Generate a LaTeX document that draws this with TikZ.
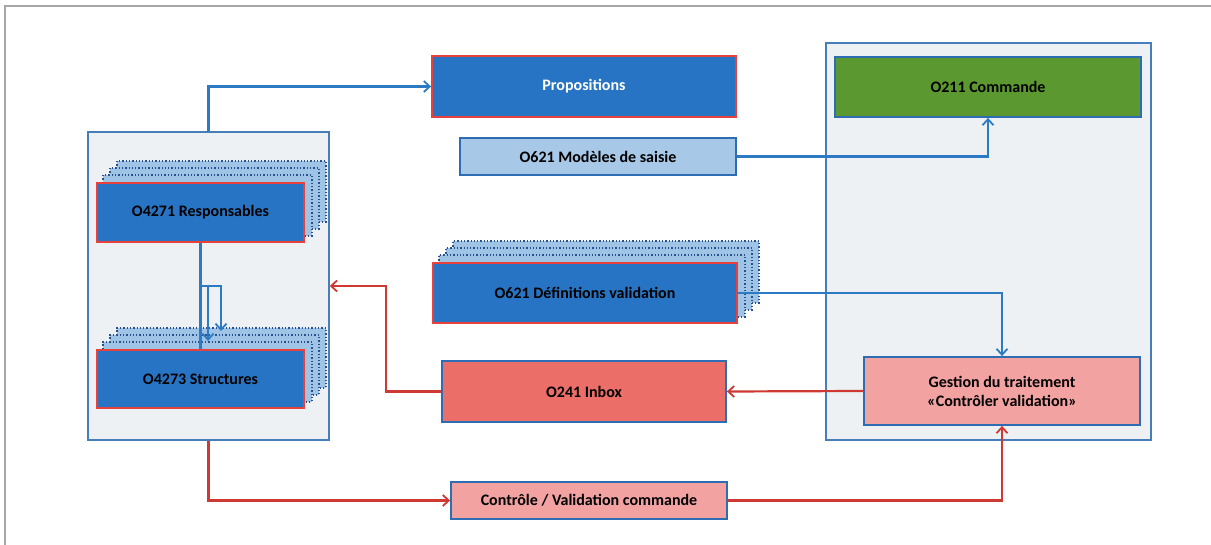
\documentclass[tikz,border=0pt]{standalone}
\usepackage{fontspec}
\setmainfont{Carlito}
\usetikzlibrary{arrows.meta}
\definecolor{dblue}{RGB}{40,116,196}
\definecolor{redb}{RGB}{232,64,58}
\definecolor{blueb}{RGB}{46,109,180}
\definecolor{lblue}{RGB}{168,200,232}
\definecolor{stkblue}{RGB}{160,196,230}
\definecolor{stkline}{RGB}{40,80,140}
\definecolor{green1}{RGB}{92,152,48}
\definecolor{pink1}{RGB}{243,162,162}
\definecolor{salmon}{RGB}{236,110,104}
\definecolor{contfill}{RGB}{238,241,244}
\definecolor{contline}{RGB}{70,126,187}
\definecolor{conblue}{RGB}{44,122,196}
\definecolor{conred}{RGB}{206,58,51}
\pgfdeclarelayer{bg}
\pgfdeclarelayer{stk}
\pgfsetlayers{bg,stk,main}
\tikzset{
  box/.style={draw, line width=1.8pt, inner sep=0pt, align=center,
    font=\fontsize{16}{19}\selectfont\bfseries},
  redbox/.style={box, draw=redb, fill=dblue},
  bluebox/.style={box, draw=blueb},
  cont/.style={draw=contline, fill=contfill, line width=1.5pt, inner sep=0pt},
  stkst/.style={draw=stkline, fill=stkblue, dotted, line width=1.3pt},
  bconn/.style={draw=conblue, line width=2.2pt},
  rconn/.style={draw=conred, line width=2.2pt},
  tip/.style={-{Straight Barb[length=6pt,width=11pt,line width=1.8pt]}},
}
\newcommand\mystack[1]{%
  \begin{pgfonlayer}{stk}
  \foreach \d in {21,14,7}{%
    \draw[stkst] ([shift={(\d,-\d)}]#1.south west) rectangle ([shift={(\d,-\d)}]#1.north east);
  }
  \end{pgfonlayer}}
\begin{document}
\begin{tikzpicture}[x=1pt,y=-1pt]
\useasboundingbox (0,0) rectangle (1211,545);
\draw[gray!70, line width=1.2pt] (5,545) -- (5,6) -- (1211,6);
\begin{pgfonlayer}{bg}
\node[cont, minimum width=241, minimum height=308] (leftc) at (208.5,286) {};
\node[cont, minimum width=325, minimum height=397] (rightc) at (988.5,241.5) {};
\end{pgfonlayer}
% boxes
\node[redbox, minimum width=207, minimum height=59] (resp) at (200.5,212.5) {O4271 Responsables};
\node[redbox, minimum width=207, minimum height=58] (struct) at (200.5,379) {O4273 Structures};
\node[redbox, minimum width=304, minimum height=61, text=white] (prop) at (584,86.5) {Propositions};
\node[bluebox, fill=lblue, minimum width=276, minimum height=37] (mod) at (598,156.5) {O621 Modèles de saisie};
\node[redbox, minimum width=304, minimum height=60] (def) at (585,293) {O621 Définitions validation};
\node[bluebox, fill=salmon, minimum width=284, minimum height=61] (inbox) at (584,391.5) {O241 Inbox};
\node[bluebox, fill=pink1, minimum width=276, minimum height=37] (ctrl) at (589,500.5) {Contrôle / Validation commande};
\node[bluebox, fill=green1, minimum width=306, minimum height=60] (cmd) at (988,87) {O211 Commande};
\node[bluebox, fill=pink1, minimum width=276, minimum height=68] (gest) at (1002,391) {Gestion du traitement\\«Contrôler validation»};
\mystack{resp}
\mystack{struct}
\mystack{def}
% internal arrows
\coordinate (ja) at (200.5,286);
\coordinate (jb) at (221,286);
\coordinate (jc) at (221,331);
\coordinate (jd) at (208,286);
\coordinate (je) at (208,341);
\draw[bconn] (resp.south) -- (struct.north);
\draw[bconn, tip] (ja) -- (jb) -- (jc);
\draw[bconn, tip] (jd) -- (je);
% connectors
\draw[bconn, tip] (leftc.north) |- (prop.west);
\draw[bconn, tip] (mod.east) -| (cmd.south);
\draw[bconn, tip] (def.east) -| (gest.north);
\draw[rconn, tip] (gest.west) -- (inbox.east);
\coordinate (rk) at (386,391.5);
\draw[rconn, tip] (inbox.west) -- (rk) |- (leftc.east);
\draw[rconn, tip] (leftc.south) |- (ctrl.west);
\draw[rconn, tip] (ctrl.east) -| (gest.south);
\end{tikzpicture}
\end{document}
